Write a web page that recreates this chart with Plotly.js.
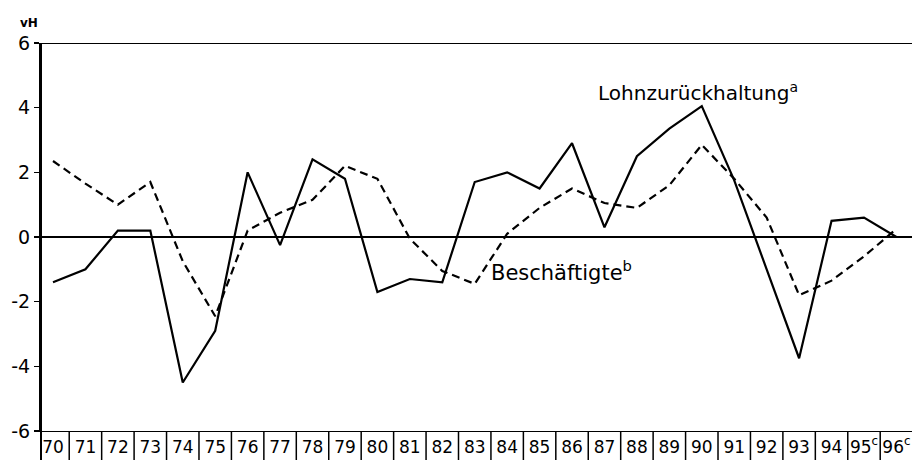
<!DOCTYPE html>
<html>
<head>
<meta charset="utf-8">
<script src="https://cdn.plot.ly/plotly-3.0.1.min.js"></script>
<style>html,body{margin:0;padding:0;background:#fff;}#chart{width:912px;height:460px;}</style>
</head>
<body>
<div id="chart"></div>
<script>
const years = [70,71,72,73,74,75,76,77,78,79,80,81,82,83,84,85,86,87,88,89,90,91,92,93,94,95,96];
const yearLabels = ["70","71","72","73","74","75","76","77","78","79","80","81","82","83","84","85","86","87","88","89","90","91","92","93","94","95<sup>c</sup>","96<sup>c</sup>"];
const lohnzurueckhaltung = [-1.4,-1.0,0.2,0.2,-4.5,-2.9,2.0,-0.25,2.4,1.8,-1.7,-1.3,-1.4,1.7,2.0,1.5,2.9,0.3,2.5,3.35,4.05,1.75,-1.0,-3.75,0.5,0.6,0.0];
const beschaeftigte = [2.35,1.65,1.0,1.7,-0.75,-2.45,0.2,0.75,1.15,2.2,1.8,-0.05,-1.05,-1.45,0.1,0.9,1.5,1.05,0.9,1.6,2.85,1.8,0.6,-1.8,-1.35,-0.6,0.25];
const yTicks = [-6,-4,-2,0,2,4,6];
const seriesNames = ["Lohnzurückhaltung<sup>a</sup>","Beschäftigte<sup>b</sup>"];
const unitLabel = "vH";

const FONT = "DejaVu Sans, Liberation Sans, sans-serif";

const traces = [
  {x: years, y: lohnzurueckhaltung, type: "scatter", mode: "lines", name: seriesNames[0],
   line: {color: "#000", width: 2.2}},
  {x: years, y: beschaeftigte, type: "scatter", mode: "lines", name: seriesNames[1],
   line: {color: "#000", width: 2.2, dash: "8px,5px"}}
];

const shapes = [];
for (let i = 0; i < years.length - 1; i++) {
  shapes.push({type: "line", xref: "x", yref: "paper", x0: years[i] + 0.5, x1: years[i] + 0.5,
    y0: 0, y1: -0.08, line: {color: "#000", width: 1.5}});
}
shapes.push({type: "line", xref: "paper", yref: "paper", x0: 0, x1: 0, y0: 1, y1: -0.08, line: {color: "#000", width: 2}});
shapes.push({type: "line", xref: "paper", yref: "y", x0: 0, x1: 1, y0: 6, y1: 6, line: {color: "#000", width: 2}});

const layout = {
  width: 912, height: 460,
  margin: {l: 41, r: 0, t: 43, b: 29},
  paper_bgcolor: "#fff", plot_bgcolor: "#fff",
  showlegend: false,
  font: {family: FONT, color: "#000", size: 18},
  xaxis: {
    range: [69.63, 96.48], tickvals: years, ticktext: yearLabels,
    showgrid: false, zeroline: false, ticks: "", showline: true, mirror: false,
    linecolor: "#000", linewidth: 1.2, ticklabeloverflow: "allow",
    tickfont: {family: FONT, size: 17, color: "#000"}
  },
  yaxis: {
    range: [-6, 6], tickvals: yTicks, ticktext: yTicks.map(String),
    showgrid: false, zeroline: true, zerolinecolor: "#000", zerolinewidth: 1.5,
    ticks: "outside", ticklen: 5, tickwidth: 1.5, tickcolor: "#000",
    showline: true, linecolor: "#000", linewidth: 2, mirror: false,
    tickfont: {family: FONT, size: 19, color: "#000"}
  },
  shapes: shapes,
  annotations: [
    {text: "<b>" + unitLabel + "</b>", xref: "paper", yref: "paper", x: -0.014, y: 1.0, xanchor: "center", yanchor: "bottom",
     yshift: 11, showarrow: false, font: {family: FONT, size: 12, color: "#000"}},
    {text: seriesNames[0], xref: "x", yref: "y", x: 86.75, y: 4.5, xanchor: "left", yanchor: "middle",
     showarrow: false, font: {family: FONT, size: 20, color: "#000"}},
    {text: seriesNames[1], xref: "x", yref: "y", x: 83.45, y: -1.05, xanchor: "left", yanchor: "middle",
     showarrow: false, font: {family: FONT, size: 21, color: "#000"}}
  ]
};

Plotly.newPlot("chart", traces, layout, {displayModeBar: false, staticPlot: true});
</script>
</body>
</html>
